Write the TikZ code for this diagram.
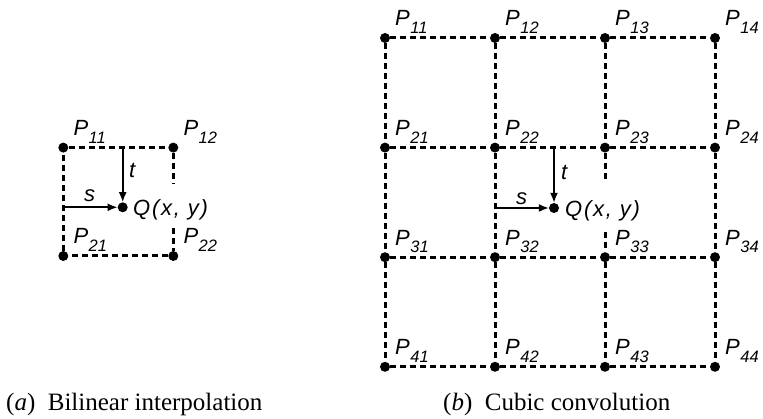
\documentclass[tikz,border=0pt]{standalone}
\usepackage{fontspec}
\setmainfont{Liberation Serif}
\newfontfamily\labfont{Liberation Sans}
\newfontfamily\qfont{Liberation Sans}[LetterSpace=8]
\usetikzlibrary{arrows.meta}
\tikzset{
  pdot/.style={circle,fill,inner sep=0pt,minimum size=10pt},
  gridline/.style={line width=3pt,dash pattern=on 6pt off 4pt},
  arr/.style={line width=1.6pt,-{Latex[length=10pt,width=8pt]}},
  plab/.style={font=\labfont\itshape\fontsize{22}{22}\selectfont,inner sep=0pt,anchor=base west},
  captxt/.style={font=\fontsize{25}{25}\selectfont,inner sep=0pt,anchor=base west}
}
\newcommand{\pname}[1]{P\kern0.5pt\raisebox{-7.5pt}{\fontsize{16.5}{16.5}\selectfont #1}}

\begin{document}
\begin{tikzpicture}[x=1pt,y=1pt]
\useasboundingbox (0,0) rectangle (763,419);
% (a) bilinear
\node[pdot] (l11) at (63.3,271.4) {};
\node[pdot] (l12) at (173.3,271.4) {};
\node[pdot] (l21) at (63.3,163) {};
\node[pdot] (l22) at (173.3,163) {};
\node[pdot] (lq) at (122.7,211.7) {};
\node[plab] (ll11) at (73.3,283.4) {\pname{11}};
\node[plab] (ll12) at (183.3,283.4) {\pname{12}};
\node[plab] (ll21) at (73.3,175) {\pname{21}};
\node[plab] (ll22) at (183.3,175) {\pname{22}};
\coordinate (lgapa) at (173.3,236);
\coordinate (lgapb) at (173.3,191);
\coordinate (lt) at (122.7,271.4);
\coordinate (ls) at (63.3,211.7);
\draw[gridline] (l11) -- (l12) -- (lgapa) (lgapb) -- (l22) -- (l21) -- (l11);
\draw[arr] (lt) -- (lq);
\draw[arr] (ls) -- (lq);
\node[plab] (ltlab) at (129,241) {t};
\node[plab] (lslab) at (84,217) {s};
\node[plab] (lqlab) at (133,203) {\qfont Q(x, y)};
% (b) cubic
\foreach \i in {1,...,4}
  \foreach \j in {1,...,4} {
    \pgfmathsetmacro\px{385+110*(\j-1)}
    \pgfmathsetmacro\py{381-109.6*(\i-1)}
    \node[pdot] (r\i\j) at (\px,\py) {};
    \node[plab] (rl\i\j) at (\px+10,\py+12) {\pname{\i\j}};
  }
\foreach \i in {1,...,4}
  \foreach \j/\k in {1/2,2/3,3/4}
    \draw[gridline] (r\i\j) -- (r\i\k);
\foreach \j in {1,2,4}
  \foreach \i/\k in {1/2,2/3,3/4}
    \draw[gridline] (r\i\j) -- (r\k\j);
\coordinate (rgapa) at (605,237);
\coordinate (rgapb) at (605,187);
\draw[gridline] (r13) -- (r23) -- (rgapa) (rgapb) -- (r33) -- (r43);
\node[pdot] (rq) at (554,211) {};
\coordinate (rt) at (554,271.4);
\coordinate (rs) at (495,211);
\draw[arr] (rt) -- (rq);
\draw[arr] (rs) -- (rq);
\node[plab] (rtlab) at (561,239) {t};
\node[plab] (rslab) at (516,214) {s};
\node[plab] (rqlab) at (565,202.5) {\qfont Q(x, y)};
% captions
\node[captxt] (capa) at (6,8) {(\textit{a})\enspace Bilinear interpolation};
\node[captxt] (capb) at (443,8) {(\textit{b})\enspace Cubic convolution};
\end{tikzpicture}
\end{document}
